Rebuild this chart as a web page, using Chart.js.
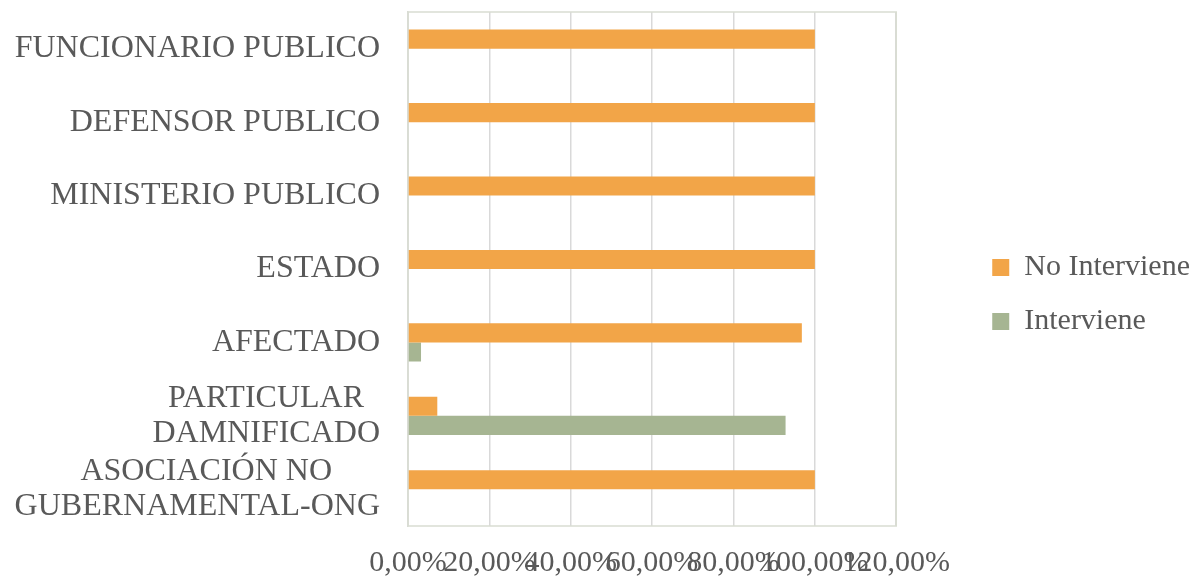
<!DOCTYPE html>
<html>
<head>
<meta charset="utf-8">
<script src="https://cdn.jsdelivr.net/npm/chart.js@4"></script>
<style>
  html, body { margin: 0; padding: 0; background: #fff; }
  #wrap { width: 1200px; height: 577px; }
</style>
</head>
<body>
<div id="wrap"><canvas id="chart"></canvas></div>
<script>
// categorias, de arriba hacia abajo
const categories = [
  'FUNCIONARIO PUBLICO',
  'DEFENSOR PUBLICO',
  'MINISTERIO PUBLICO',
  'ESTADO',
  'AFECTADO',
  ['PARTICULAR  ', 'DAMNIFICADO'],
  ['ASOCIACIÓN NO      ', 'GUBERNAMENTAL-ONG']
];

// porcentajes
const noInterviene = [100, 100, 100, 100, 96.8, 7.2, 100];
const interviene = [0, 0, 0, 0, 3.2, 92.8, 0];

const xTicks = [0, 20, 40, 60, 80, 100, 120];

const textColor = '#595959';
const serif = "'Liberation Serif', 'Times New Roman', serif";

// borde del area de trazado
const plotFrame = {
  id: 'plotFrame',
  beforeDatasetsDraw(chart) {
    const { ctx, chartArea: a } = chart;
    ctx.save();
    ctx.strokeStyle = '#d9ddd2';
    ctx.lineWidth = 1.5;
    ctx.strokeRect(a.left, a.top, a.right - a.left, a.bottom - a.top);
    ctx.restore();
  }
};

const ctx = document.getElementById('chart').getContext('2d');
new Chart(ctx, {
  type: 'bar',
  data: {
    labels: categories,
    datasets: [
      {
        label: 'No Interviene',
        data: noInterviene,
        backgroundColor: '#F2A548',
        categoryPercentage: 0.52,
        barPercentage: 1
      },
      {
        label: 'Interviene',
        data: interviene,
        backgroundColor: '#A6B592',
        categoryPercentage: 0.52,
        barPercentage: 1
      }
    ]
  },
  options: {
    indexAxis: 'y',
    responsive: true,
    maintainAspectRatio: false,
    animation: false,
    layout: { padding: { top: 12, left: 15, right: 0, bottom: 0 } },
    scales: {
      x: {
        min: 0,
        max: 120,
        afterBuildTicks: (scale) => {
          scale.ticks = xTicks.map(v => ({ value: v }));
        },
        grid: { color: '#d9d9d9', lineWidth: 1.5, drawTicks: false },
        border: { display: false },
        ticks: {
          autoSkip: false,
          maxRotation: 0,
          minRotation: 0,
          padding: 21,
          color: textColor,
          font: { family: serif, size: 30, lineHeight: 1.1 },
          callback: (v) => v.toFixed(2).replace('.', ',') + '%'
        },
        afterFit: (scale) => { scale.height = 51; }
      },
      y: {
        grid: { display: false, drawTicks: false },
        border: { color: '#d9d9d9', width: 1.5 },
        ticks: {
          autoSkip: false,
          padding: 28,
          color: textColor,
          font: { family: serif, size: 32, lineHeight: 1.1 }
        },
        afterFit: (scale) => {
          scale.width = 393;
          scale.paddingTop = 0;
          scale.paddingBottom = 0;
        }
      },
      // espacio entre el grafico y la leyenda
      yGap: {
        type: 'category',
        position: 'right',
        display: true,
        grid: { display: false, drawTicks: false },
        border: { display: false },
        ticks: { display: false },
        afterFit: (scale) => {
          scale.width = 72;
          scale.paddingTop = 0;
          scale.paddingBottom = 0;
        }
      }
    },
    plugins: {
      legend: {
        position: 'right',
        maxWidth: 300,
        labels: {
          boxWidth: 17,
          boxHeight: 17,
          padding: 24,
          color: textColor,
          font: { family: serif, size: 30 }
        }
      },
      tooltip: { enabled: false }
    }
  },
  plugins: [plotFrame]
});
</script>
</body>
</html>
